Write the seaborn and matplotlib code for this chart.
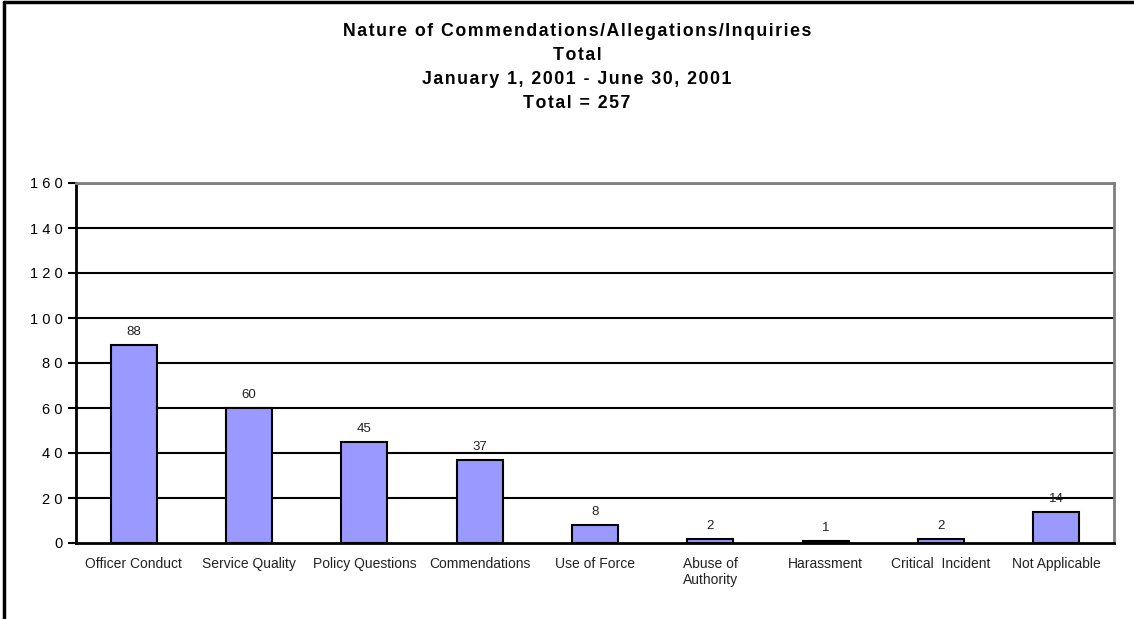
"""
Bar chart of the nature of commendations/allegations/inquiries, Jan-Jun 2001.
"""

import matplotlib
matplotlib.use('Agg')
import matplotlib.pyplot as plt
from matplotlib.lines import Line2D
import numpy as np
import pandas as pd
import seaborn as sns

categories = ['Officer Conduct', 'Service Quality', 'Policy Questions', 'Commendations',
              'Use of Force', 'Abuse of\nAuthority', 'Harassment', 'Critical  Incident',
              'Not Applicable']
counts = [88, 60, 45, 37, 8, 2, 1, 2, 14]
y_ticks = [0, 20, 40, 60, 80, 100, 120, 140, 160]
title_lines = ['Nature of Commendations/Allegations/Inquiries', 'Total',
               'January 1, 2001 - June 30, 2001', 'Total = 257']

sns.set_style('white')
plt.rcParams['font.family'] = ['Liberation Sans', 'DejaVu Sans']
plt.rcParams['text.color'] = 'black'
plt.rcParams['xtick.color'] = 'black'
plt.rcParams['ytick.color'] = 'black'

df = pd.DataFrame({'category': categories, 'count': counts})

fig = plt.figure(figsize=(11.34, 6.19), dpi=100)
ax = fig.add_axes([76 / 1134, 1 - 543 / 619, 1038 / 1134, 360 / 619])

sns.barplot(data=df, x='category', y='count', color='#9999FF', edgecolor='black',
            linewidth=1.5, width=0.4, saturation=1, ax=ax)

# value labels above bars
for i, v in enumerate(counts):
    ax.text(i, v + 3, str(v), ha='center', va='bottom', fontsize=9.5, color='#222222')

ax.set_ylim(0, 160)
ax.set_xlim(-0.5, len(categories) - 0.5)
ax.set_yticks(y_ticks)
ax.set_yticklabels([' '.join(str(t)) for t in y_ticks], fontsize=10.5)
ax.set_xlabel('')
ax.set_ylabel('')
ax.tick_params(axis='x', which='major', length=0, labelsize=10, pad=10, labelcolor='#222222')
ax.set_xticks(np.arange(-0.5, len(categories)), minor=True)
ax.tick_params(axis='x', which='minor', length=6, width=1.5, direction='out', color='black')
ax.tick_params(axis='y', length=6, width=1.5, direction='out', color='black', left=True)

for t in y_ticks[1:-1]:
    ax.axhline(t, color='black', linewidth=1.5, zorder=0)
ax.axhline(160, color='#808080', linewidth=2, zorder=0)

for side in ['left', 'bottom']:
    ax.spines[side].set_color('black')
    ax.spines[side].set_linewidth(2)
for side in ['top', 'right']:
    ax.spines[side].set_color('#808080')
    ax.spines[side].set_linewidth(2)
    ax.spines[side].set_visible(True)

# titles, letter-spaced like the original
for k, line in enumerate(title_lines):
    spaced = '\u200a'.join(line)
    fig.text(577 / 1134, 1 - (32 + 24 * k) / 619, spaced, ha='center', va='center',
             fontsize=12.8, fontweight='bold', color='black')

# outer frame (top and left edges only)
fig.add_artist(Line2D([3.5 / 1134, 3.5 / 1134], [0, 1 - 2 / 619], color='black', linewidth=2.5,
                      transform=fig.transFigure))
fig.add_artist(Line2D([3.5 / 1134, 1], [1 - 2 / 619, 1 - 2 / 619], color='black', linewidth=2.5,
                      transform=fig.transFigure))

fig.savefig('out.png', dpi=100)
